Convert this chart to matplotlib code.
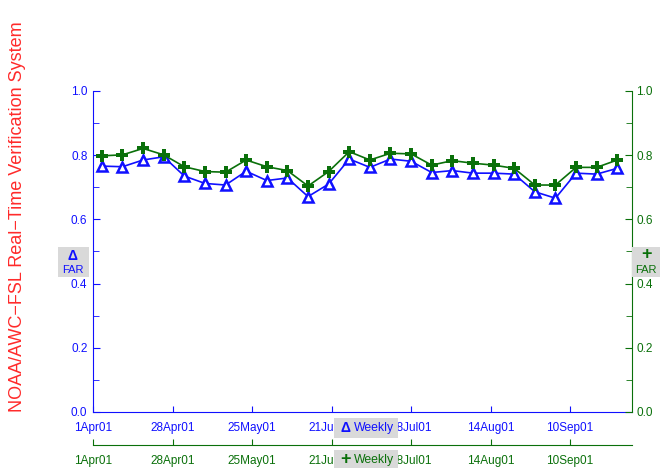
import datetime as dt
import matplotlib
matplotlib.use("Agg")
import matplotlib.pyplot as plt
from matplotlib.patches import Rectangle

plt.rcParams['font.family'] = ['Liberation Sans', 'DejaVu Sans']

# weekly FAR values, first week starting 4 Apr 2001
start = dt.date(2001, 4, 4)
weeks = [start + dt.timedelta(days=7 * i) for i in range(26)]

far_blue = [0.766, 0.764, 0.785, 0.795, 0.735, 0.712, 0.707, 0.750, 0.721, 0.729,
            0.671, 0.710, 0.788, 0.762, 0.788, 0.781, 0.746, 0.752, 0.744, 0.744,
            0.741, 0.686, 0.666, 0.744, 0.741, 0.759]
far_green = [0.798, 0.801, 0.821, 0.801, 0.764, 0.749, 0.747, 0.785, 0.764, 0.752,
             0.704, 0.749, 0.811, 0.785, 0.806, 0.804, 0.769, 0.783, 0.775, 0.769,
             0.759, 0.707, 0.707, 0.762, 0.762, 0.785]

tick_dates = [dt.date(2001, 4, 1) + dt.timedelta(days=27 * i) for i in range(7)]
tick_labels = ['1Apr01', '28Apr01', '25May01', '21Jun01', '18Jul01', '14Aug01', '10Sep01']

BLUE = '#1010ff'
GREEN = '#0a700a'
GRAY = '#d9d9d9'

fig = plt.figure(figsize=(6.62, 4.68), dpi=100)
ax = fig.add_axes([0.1405, 0.1197, 0.8142, 0.6859])

ax.plot(weeks, far_blue, color=BLUE, lw=1.2, marker='^', ms=7.5, mew=1.8,
        mfc='white', mec=BLUE, zorder=3)
ax.plot(weeks, far_green, color=GREEN, lw=1.2, marker='P', ms=8, mew=0,
        mfc=GREEN, zorder=4)

ax.set_xlim(dt.date(2001, 4, 1), dt.date(2001, 10, 1))
ax.set_ylim(0, 1)
ax.set_yticks([0.0, 0.2, 0.4, 0.6, 0.8, 1.0])
ax.set_yticks([0.1, 0.3, 0.5, 0.7, 0.9], minor=True)
ax.set_yticklabels(['0.0', '0.2', '0.4', '0.6', '0.8', '1.0'])
ax.set_xticks(tick_dates)
ax.set_xticklabels(tick_labels)

for s in ['top', 'right']:
    ax.spines[s].set_visible(False)
for s in ['left', 'bottom']:
    ax.spines[s].set_color(BLUE)
ax.tick_params(axis='both', which='both', direction='in', colors=BLUE,
               labelsize=8.5, labelcolor=BLUE)
ax.tick_params(axis='y', which='major', length=5, pad=4)
ax.tick_params(axis='y', which='minor', length=4)
ax.tick_params(axis='x', length=4, pad=7)

# green right axis
ax2 = ax.twinx()
ax2.set_ylim(0, 1)
ax2.set_yticks([0.0, 0.2, 0.4, 0.6, 0.8, 1.0])
ax2.set_yticks([0.1, 0.3, 0.5, 0.7, 0.9], minor=True)
ax2.set_yticklabels(['0.0', '0.2', '0.4', '0.6', '0.8', '1.0'])
for s in ['top', 'left', 'bottom']:
    ax2.spines[s].set_visible(False)
ax2.spines['right'].set_color(GREEN)
ax2.tick_params(axis='y', which='both', direction='in', colors=GREEN,
                labelsize=8.5, labelcolor=GREEN)
ax2.tick_params(axis='y', which='major', length=5, pad=3)
ax2.tick_params(axis='y', which='minor', length=4)

# green bottom axis
sec = ax.secondary_xaxis(-0.103)
sec.set_xticks(tick_dates)
sec.set_xticklabels(tick_labels)
sec.spines['bottom'].set_color(GREEN)
sec.tick_params(axis='x', direction='in', length=4, pad=7, colors=GREEN,
                labelsize=8.5, labelcolor=GREEN)

fig.text(0.027, 0.536, 'NOAA/AWC\u2212FSL Real\u2212Time Verification System',
         rotation=90, color='#ff2a2a', fontsize=13, ha='center', va='center')

# label boxes
def box(x0, y0, w, h):
    fig.add_artist(Rectangle((x0, y0), w, h, transform=fig.transFigure,
                             facecolor=GRAY, edgecolor='none', zorder=10))

box(0.0876, 0.408, 0.0468, 0.0641)
fig.text(0.110, 0.452, '\u0394', color=BLUE, fontsize=10, fontweight='bold',
         ha='center', va='center', zorder=11)
fig.text(0.110, 0.424, 'FAR', color=BLUE, fontsize=8, ha='center', va='center', zorder=11)

box(0.9547, 0.408, 0.0423, 0.0641)
fig.text(0.976, 0.456, '+', color=GREEN, fontsize=13, fontweight='bold',
         ha='center', va='center', zorder=11)
fig.text(0.976, 0.424, 'FAR', color=GREEN, fontsize=8, ha='center', va='center', zorder=11)

box(0.5045, 0.0641, 0.0967, 0.0427)
fig.text(0.522, 0.0855, '\u0394', color=BLUE, fontsize=10, fontweight='bold',
         ha='center', va='center', zorder=11)
fig.text(0.534, 0.0855, 'Weekly', color=BLUE, fontsize=8.8, ha='left', va='center', zorder=11)

box(0.5045, 0.0, 0.0967, 0.0385)
fig.text(0.522, 0.018, '+', color=GREEN, fontsize=13, fontweight='bold',
         ha='center', va='center', zorder=11)
fig.text(0.534, 0.018, 'Weekly', color=GREEN, fontsize=8.8, ha='left', va='center', zorder=11)

fig.savefig('out.png', dpi=100)
